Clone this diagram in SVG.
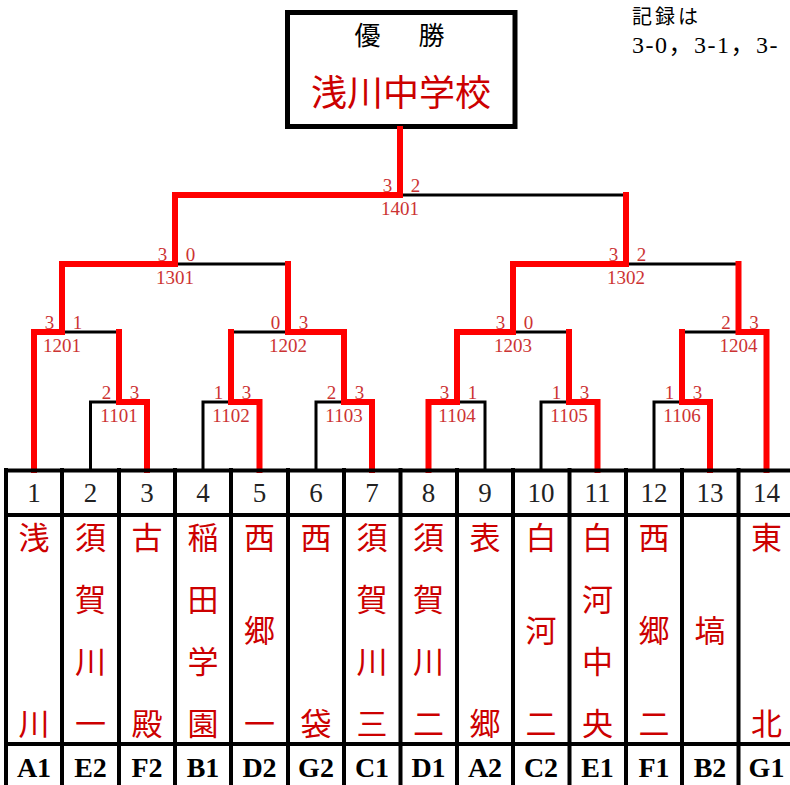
<svg xmlns="http://www.w3.org/2000/svg" width="790" height="785" viewBox="0 0 790 785">
<style>
.bg{fill:#ffffff}
.blk{fill:none;stroke:#000;stroke-width:3;stroke-linecap:square}
.red{fill:none;stroke:#ff0000;stroke-width:6;stroke-linecap:square;stroke-linejoin:miter}
.tl{fill:none;stroke:#000;stroke-width:4}
.lab{font-family:"Liberation Serif","Noto Sans CJK JP",serif;font-size:19px;fill:#cc3333;text-anchor:middle}
.num{font-family:"Liberation Serif",serif;font-size:27px;fill:#222;text-anchor:middle}
.code{font-family:"Liberation Serif",serif;font-size:28px;font-weight:bold;fill:#000;text-anchor:middle}
.nm{font-family:"Noto Sans CJK JP","Noto Sans CJK SC",sans-serif;font-size:31px;fill:#cc0000;text-anchor:middle}
.note{font-family:"Liberation Serif","Noto Sans CJK JP",serif;font-size:24px;fill:#000}
</style>
<rect class="bg" x="0" y="0" width="790" height="785"/>

<g id="note">
<text class="note" x="632" y="24" style="font-family:'Noto Sans CJK JP',sans-serif;font-size:20px;letter-spacing:3px">記録は</text>
<text class="note" x="632" y="53" style="letter-spacing:1.5px">3-0，3-1，3-</text>
</g>

<g id="champion">
<rect x="287.5" y="12.5" width="227.5" height="114" fill="#fff" stroke="#000" stroke-width="5"/>
<text x="354.5" y="45" style="font-family:'Noto Sans CJK JP',sans-serif;font-size:26px;letter-spacing:6px;fill:#000">優　勝</text>
<text x="401" y="106" style="font-family:'Noto Sans CJK JP',sans-serif;font-size:36px;fill:#cc0000;text-anchor:middle">浅川中学校</text>
</g>

<g id="connectors">
<path class="blk" d="M400 195H626"/>
<path class="blk" d="M175 264H288"/>
<path class="blk" d="M626 264H738.5"/>
<path class="blk" d="M62 332H119"/>
<path class="blk" d="M231 332H288"/>
<path class="blk" d="M513 332H569"/>
<path class="blk" d="M682 332H738.5"/>
<path class="blk" d="M90.5 470V402H119"/>
<path class="blk" d="M203 470V402H231"/>
<path class="blk" d="M316 470V402H344"/>
<path class="blk" d="M457 402H485V470"/>
<path class="blk" d="M541 470V402H569"/>
<path class="blk" d="M654 470V402H682"/>
<path class="red" d="M34 470V332H62V264H175V195H400V129"/>
<path class="red" d="M428.5 470V402H457V332H513V264H626V195"/>
<path class="red" d="M372 470V402H344V332H288V264"/>
<path class="red" d="M147 470V402H119V332"/>
<path class="red" d="M259.5 470V402H231V332"/>
<path class="red" d="M597.5 470V402H569V332"/>
<path class="red" d="M766.5 470V332H738.5V264"/>
<path class="red" d="M710 470V402H682V332"/>
</g>

<g id="m1401"><text class="lab" x="387.5" y="192">3</text><text class="lab" x="415.5" y="192">2</text><text class="lab" x="400" y="215">1401</text></g>
<g id="m1301"><text class="lab" x="162.5" y="261">3</text><text class="lab" x="190.5" y="261">0</text><text class="lab" x="175" y="284">1301</text></g>
<g id="m1302"><text class="lab" x="613.5" y="261">3</text><text class="lab" x="641.5" y="261">2</text><text class="lab" x="626" y="284">1302</text></g>
<g id="m1201"><text class="lab" x="49.5" y="329">3</text><text class="lab" x="77.5" y="329">1</text><text class="lab" x="62" y="352">1201</text></g>
<g id="m1202"><text class="lab" x="275.5" y="329">0</text><text class="lab" x="303.5" y="329">3</text><text class="lab" x="288" y="352">1202</text></g>
<g id="m1203"><text class="lab" x="500.5" y="329">3</text><text class="lab" x="528.5" y="329">0</text><text class="lab" x="513" y="352">1203</text></g>
<g id="m1204"><text class="lab" x="726" y="329">2</text><text class="lab" x="754" y="329">3</text><text class="lab" x="738.5" y="352">1204</text></g>
<g id="m1101"><text class="lab" x="106.5" y="399">2</text><text class="lab" x="134.5" y="399">3</text><text class="lab" x="119" y="422">1101</text></g>
<g id="m1102"><text class="lab" x="218.5" y="399">1</text><text class="lab" x="246.5" y="399">3</text><text class="lab" x="231" y="422">1102</text></g>
<g id="m1103"><text class="lab" x="331.5" y="399">2</text><text class="lab" x="359.5" y="399">3</text><text class="lab" x="344" y="422">1103</text></g>
<g id="m1104"><text class="lab" x="444.5" y="399">3</text><text class="lab" x="472.5" y="399">1</text><text class="lab" x="457" y="422">1104</text></g>
<g id="m1105"><text class="lab" x="556.5" y="399">1</text><text class="lab" x="584.5" y="399">3</text><text class="lab" x="569" y="422">1105</text></g>
<g id="m1106"><text class="lab" x="669.5" y="399">1</text><text class="lab" x="697.5" y="399">3</text><text class="lab" x="682" y="422">1106</text></g>

<g id="table">
<path class="tl" d="M4 470.5H790" stroke-width="4.5"/>
<path class="tl" d="M4 515H790"/>
<path class="tl" d="M4 744H790"/>
<path class="tl" d="M6 468V785M62 468V785M119 468V785M175 468V785M231 468V785M288 468V785M344 468V785M400.5 468V785M457 468V785M513 468V785M569.5 468V785M626 468V785M682 468V785M738.5 468V785"/>
</g>

<g id="team1"><text class="num" x="34" y="502">1</text><text class="nm"><tspan x="34" y="549">浅</tspan><tspan x="34" y="735">川</tspan></text><text class="code" x="34" y="777">A1</text></g>
<g id="team2"><text class="num" x="90.5" y="502">2</text><text class="nm"><tspan x="90.5" y="549">須</tspan><tspan x="90.5" y="611">賀</tspan><tspan x="90.5" y="673">川</tspan><tspan x="90.5" y="735">一</tspan></text><text class="code" x="90.5" y="777">E2</text></g>
<g id="team3"><text class="num" x="147" y="502">3</text><text class="nm"><tspan x="147" y="549">古</tspan><tspan x="147" y="735">殿</tspan></text><text class="code" x="147" y="777">F2</text></g>
<g id="team4"><text class="num" x="203" y="502">4</text><text class="nm"><tspan x="203" y="549">稲</tspan><tspan x="203" y="611">田</tspan><tspan x="203" y="673">学</tspan><tspan x="203" y="735">園</tspan></text><text class="code" x="203" y="777">B1</text></g>
<g id="team5"><text class="num" x="259.5" y="502">5</text><text class="nm"><tspan x="259.5" y="549">西</tspan><tspan x="259.5" y="642">郷</tspan><tspan x="259.5" y="735">一</tspan></text><text class="code" x="259.5" y="777">D2</text></g>
<g id="team6"><text class="num" x="316" y="502">6</text><text class="nm"><tspan x="316" y="549">西</tspan><tspan x="316" y="735">袋</tspan></text><text class="code" x="316" y="777">G2</text></g>
<g id="team7"><text class="num" x="372" y="502">7</text><text class="nm"><tspan x="372" y="549">須</tspan><tspan x="372" y="611">賀</tspan><tspan x="372" y="673">川</tspan><tspan x="372" y="735">三</tspan></text><text class="code" x="372" y="777">C1</text></g>
<g id="team8"><text class="num" x="428.5" y="502">8</text><text class="nm"><tspan x="428.5" y="549">須</tspan><tspan x="428.5" y="611">賀</tspan><tspan x="428.5" y="673">川</tspan><tspan x="428.5" y="735">二</tspan></text><text class="code" x="428.5" y="777">D1</text></g>
<g id="team9"><text class="num" x="485" y="502">9</text><text class="nm"><tspan x="485" y="549">表</tspan><tspan x="485" y="735">郷</tspan></text><text class="code" x="485" y="777">A2</text></g>
<g id="team10"><text class="num" x="541" y="502">10</text><text class="nm"><tspan x="541" y="549">白</tspan><tspan x="541" y="642">河</tspan><tspan x="541" y="735">二</tspan></text><text class="code" x="541" y="777">C2</text></g>
<g id="team11"><text class="num" x="597.5" y="502">11</text><text class="nm"><tspan x="597.5" y="549">白</tspan><tspan x="597.5" y="611">河</tspan><tspan x="597.5" y="673">中</tspan><tspan x="597.5" y="735">央</tspan></text><text class="code" x="597.5" y="777">E1</text></g>
<g id="team12"><text class="num" x="654" y="502">12</text><text class="nm"><tspan x="654" y="549">西</tspan><tspan x="654" y="642">郷</tspan><tspan x="654" y="735">二</tspan></text><text class="code" x="654" y="777">F1</text></g>
<g id="team13"><text class="num" x="710" y="502">13</text><text class="nm"><tspan x="710" y="642">塙</tspan></text><text class="code" x="710" y="777">B2</text></g>
<g id="team14"><text class="num" x="766.5" y="502">14</text><text class="nm"><tspan x="766.5" y="549">東</tspan><tspan x="766.5" y="735">北</tspan></text><text class="code" x="766.5" y="777">G1</text></g>
</svg>
